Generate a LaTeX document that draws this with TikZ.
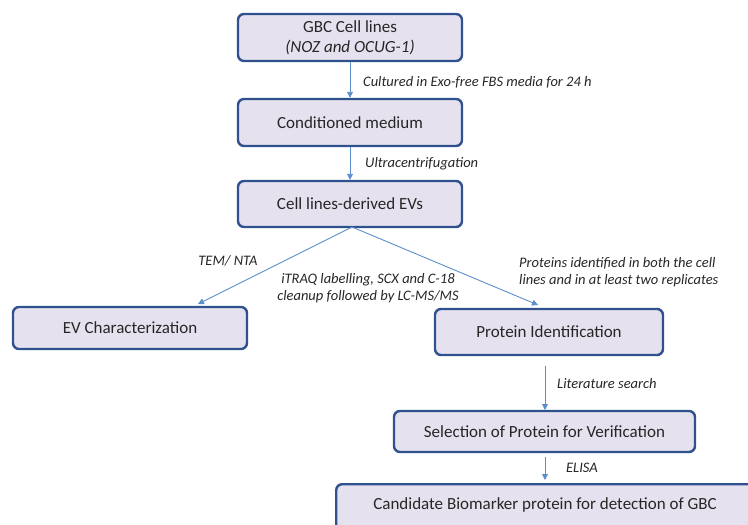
\documentclass[tikz,border=0pt]{standalone}
\usepackage{fontspec}
\setmainfont{Carlito}
\usetikzlibrary{arrows.meta}
\definecolor{boxfill}{HTML}{E6E1EE}
\definecolor{boxdraw}{HTML}{2F528F}
\definecolor{arr}{HTML}{5B8FCB}
\definecolor{txt}{HTML}{262626}
\tikzset{
  box/.style={draw=boxdraw, line width=2.4pt, fill=boxfill, rounded corners=6pt, text=txt, font=\fontsize{17}{20}\selectfont, inner sep=0pt},
  conn/.style={draw=arr, line width=0.9pt, -{Triangle[length=6pt,width=6pt]}},
  lab/.style={font=\fontsize{14.5}{17}\itshape, text=txt, inner sep=0pt},
}
\begin{document}
\begin{tikzpicture}[x=1pt,y=-1pt]
\useasboundingbox (0,0) rectangle (748,525);
\begin{scope}
\clip (0,0) rectangle (748,525);
\node[box, minimum width=224pt, minimum height=47pt, align=center] (b1) at (350,37.5) {GBC Cell lines\\\itshape(NOZ and OCUG-1)};
\node[box, minimum width=224pt, minimum height=47pt] (b2) at (350,122.5) {Conditioned medium};
\node[box, minimum width=224pt, minimum height=46pt] (b3) at (350,204) {Cell lines-derived EVs};
\node[box, minimum width=234pt, minimum height=42pt] (ev) at (130,328) {EV Characterization};
\node[box, minimum width=228pt, minimum height=46pt] (pi) at (549,332) {Protein Identification};
\node[box, minimum width=301pt, minimum height=41pt] (sel) at (544.5,431.5) {Selection of Protein for Verification};
\node[box, minimum width=440pt, minimum height=60pt, anchor=north west] (cand) at (335,483) {};
\node[text=txt, font=\fontsize{17}{20}\selectfont] (candt) at (545,505) {Candidate Biomarker protein for detection of GBC};
\end{scope}
\coordinate (split) at (352,227);
\coordinate (evtip) at (198,304);
\coordinate (pitip) at (538,305);
\draw[conn] (b1.south) -- (b2.north);
\draw[conn] (b2.south) -- (b3.north);
\draw[conn] (split) -- (evtip);
\draw[conn] (split) -- (pitip);
\coordinate (p1) at (545,366);
\coordinate (p2) at (545,410);
\draw[conn] (p1) -- (p2);
\coordinate (s1) at (545,457);
\coordinate (s2) at (545,480);
\draw[conn] (s1) -- (s2);
\node[lab, anchor=west] (l1) at (363,82) {Cultured in Exo-free FBS media for 24 h};
\node[lab, anchor=west] (l2) at (365,164) {Ultracentrifugation};
\node[lab] (l3) at (228,261) {TEM/ NTA};
\node[lab, align=center] (l4) at (368,288) {iTRAQ labelling, SCX and C-18\\cleanup followed by LC-MS/MS};
\node[lab, align=left, anchor=west] (l5) at (519,272) {Proteins identified in both the cell\\lines and in at least two replicates};
\node[lab, anchor=west] (l6) at (557,384) {Literature search};
\node[lab] (l7) at (582,468) {ELISA};
\end{tikzpicture}
\end{document}
